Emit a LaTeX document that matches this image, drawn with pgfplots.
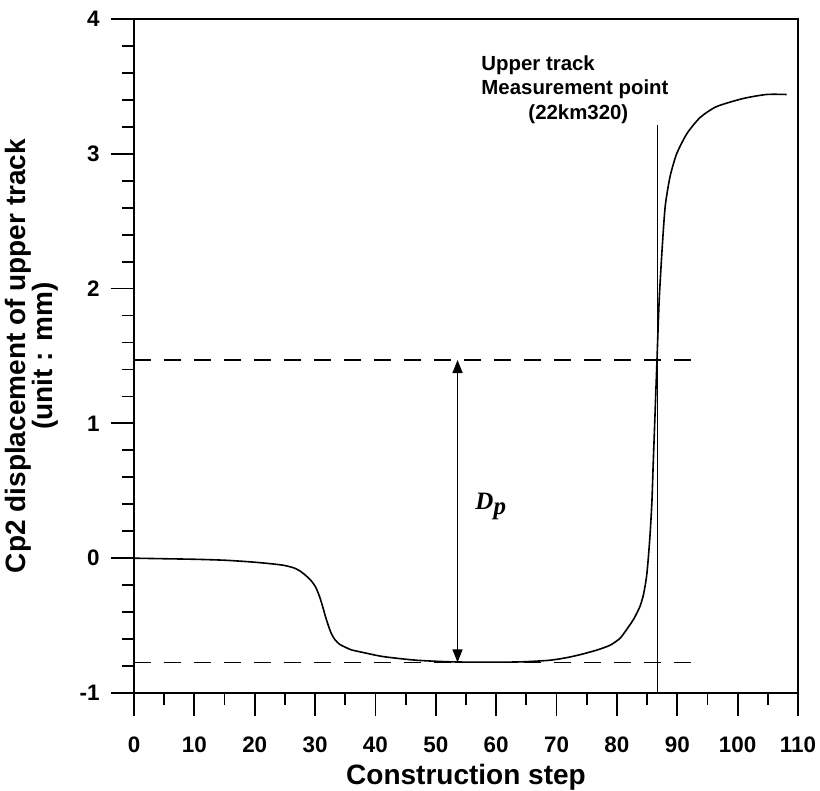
\documentclass[border=0pt]{standalone}
\usepackage{fontspec}
\setmainfont{Liberation Sans}
\newfontfamily\seriffont{Liberation Serif}
\usepackage{pgfplots}
\pgfplotsset{compat=1.18}
\usetikzlibrary{arrows.meta}
\begin{document}
\begin{tikzpicture}
\begin{axis}[
  name=ax,
  width=332pt, height=337pt, scale only axis,
  xmin=0, xmax=110, ymin=-1, ymax=4,
  xtick={0,10,20,30,40,50,60,70,80,90,100,110},
  xticklabels={0,10,20,30,40,50,60,70,80,90,100,110},
  ytick={-1,0,1,2,3,4},
  yticklabels={-1,0,1,2,3,4},
  minor x tick num=1, minor y tick num=4,
  tick align=outside, xtick pos=bottom, ytick pos=left,
  major tick length=11.5pt, minor tick length=6pt,
  every tick/.style={black, line width=0.9pt},
  axis line style={line width=1pt},
  tick label style={font=\bfseries\fontsize{11.2}{11.2}\selectfont, inner sep=0pt},
  xticklabel style={anchor=base, yshift=-18.5pt},
  yticklabel style={anchor=east, xshift=-5.5pt},
  xlabel={Construction step},
  xlabel style={at={(axis description cs:0.5,-0.1365)}, anchor=base, inner sep=0pt,
    font=\bfseries\fontsize{14}{14}\selectfont},
  ylabel={Cp2 displacement of upper track\\(unit : mm)},
  ylabel style={at={(axis description cs:-0.113,0.5)}, anchor=south, inner sep=0pt,
    align=center, font=\bfseries\fontsize{14}{13.5}\selectfont},
  clip=false,
]
% curve
\addplot[black, line width=0.8pt, smooth, tension=0.4] coordinates {
(0,0) (5,-0.004) (10,-0.008) (15,-0.015) (19.2,-0.027) (22,-0.038) (24.7,-0.052)
(26.5,-0.072) (27.5,-0.095) (28.5,-0.13) (29.4,-0.17) (30.1,-0.215) (30.7,-0.28)
(31.2,-0.35) (31.7,-0.43) (32.2,-0.5) (32.7,-0.56) (33.3,-0.605) (34.1,-0.64)
(35,-0.66) (36,-0.68) (38,-0.70) (41.3,-0.73) (46.8,-0.757)
(53.5,-0.77) (63.4,-0.77) (68.9,-0.757) (72,-0.735) (74.4,-0.71) (76.8,-0.68) (78.9,-0.645)
(80.5,-0.595) (81.6,-0.53) (82.8,-0.45) (83.8,-0.36) (84.4,-0.27) (84.9,-0.14) (85.2,0.0)
(85.5,0.18) (85.8,0.42) (86.0,0.68) (86.3,1.05) (86.6,1.42) (87.0,1.91) (87.5,2.3)
(88.0,2.61) (88.8,2.83) (89.9,3.00) (91.6,3.15) (93.8,3.27) (96.5,3.35) (100.9,3.41)
(104.8,3.44) (108.1,3.44)
};
% dashed reference lines
\addplot[black, line width=0.7pt, dash pattern=on 8.5pt off 6.5pt] coordinates {(0,1.47) (92.4,1.47)};
\addplot[black, line width=0.7pt, dash pattern=on 8.5pt off 6.5pt] coordinates {(0,-0.773) (92.4,-0.773)};
% measurement point vertical line
\addplot[black, line width=0.6pt] coordinates {(86.7,-1) (86.7,3.21)};
% D_p double arrow
\addplot[black, line width=0.7pt, {Triangle[length=6.5pt,width=5pt]}-{Triangle[length=6.5pt,width=5pt]}]
  coordinates {(53.6,1.47) (53.6,-0.773)};
\node[anchor=base west, inner sep=0pt, font=\seriffont\bfseries\itshape\fontsize{12.5}{12.5}\selectfont]
  at (axis cs:56.5,0.363) {D\raisebox{-2.5pt}{p}};
\node[anchor=north west, inner sep=0pt, align=left,
  font=\bfseries\fontsize{10.2}{12.2}\selectfont]
  at (axis cs:57.5,3.73) {Upper track\\Measurement point\\\hspace*{23.5pt}(22km320)};
\end{axis}
\pgfresetboundingbox
\path[use as bounding box] ([shift={(-67pt,-49pt)}]ax.south west) rectangle ([shift={(11pt,9.5pt)}]ax.north east);
\end{tikzpicture}
\end{document}
